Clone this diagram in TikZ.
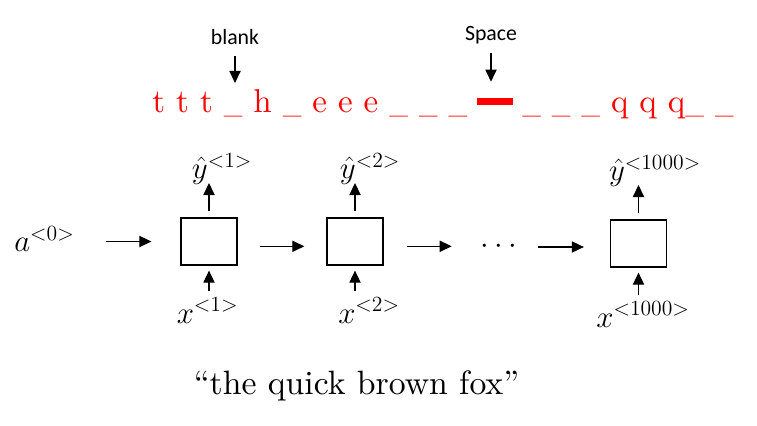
\documentclass[tikz,border=0pt]{standalone}
\usepackage{fix-cm}
\usepackage{fontspec}
\newfontfamily\notefont{Carlito}
\newfontfamily\cmbig{lmroman10-regular.otf}[Ligatures=TeX]
\newcommand\blk{\scalebox{0.75}[1]{\_}}
\usetikzlibrary{positioning,arrows.meta}

\begin{document}
\begin{tikzpicture}[
    x=0.025cm, y=-0.025cm,
    cell/.style={draw, line width=0.9pt, minimum width=1.4cm, minimum height=1.175cm, inner sep=0pt},
    arr/.style={-{Triangle[length=0.3cm,width=0.28cm]}, line width=0.8pt},
    seq/.style={text=red, font=\cmbig\fontsize{23.5}{28}\selectfont, inner sep=0pt},
    captext/.style={font=\cmbig\fontsize{24}{28}\selectfont, inner sep=0pt},
    lab/.style={font=\fontsize{22}{26}\selectfont, inner sep=0pt},
    note/.style={font=\notefont\fontsize{15.5}{18}\selectfont, inner sep=0pt},
  ]
  \useasboundingbox (0,0) rectangle (757,426);

  % Output sequence with blank and space marks.
  \node[seq, anchor=base west] (left) at (152,113) {t t t \blk{} h \blk{} e e e \blk{} \blk{} \blk};
  \node[fill=red, minimum width=0.9cm, minimum height=0.175cm, inner sep=0pt] (bar) at (495,101.5) {};
  \node[seq, anchor=base west] (right) at (522,113) {\blk{} \blk{} \blk{} q q q\blk{} \blk};
  \node[note] (blank) at (235,37) {blank};
  \node[note] (space) at (491,35) {Space};
  \coordinate (gap) at (235,83);
  \draw[arr, shorten <=0.275cm] (blank.south) -- (gap);
  \draw[arr, shorten <=0.225cm, shorten >=0.4cm] (space.south) -- (space.south |- bar.north);

  % Unrolled network.
  \node[lab, anchor=base west] (a0) at (14,252) {$a^{<0>}$};
  \node[cell] (b1) at (209,241.5) {};
  \node[cell] (b2) at (355,241.5) {};
  \node[cell] (b3) at (638.5,243.5) {};
  \node[lab] (dots) at (499,247) {$\cdots$};

  \node[lab, anchor=base] (y1) at (222,179) {$\hat{y}^{<1>}$};
  \node[lab, anchor=base] (y2) at (370,179) {$\hat{y}^{<2>}$};
  \node[lab, anchor=base] (y3) at (655,181) {$\hat{y}^{<1000>}$};
  \node[lab, anchor=base] (x1) at (207.5,323) {$x^{<1>}$};
  \node[lab, anchor=base] (x2) at (369,323) {$x^{<2>}$};
  \node[lab, anchor=base] (x3) at (643,327) {$x^{<1000>}$};

  \foreach \i in {1,2,3} {
    \draw[arr, shorten <=0.15cm, shorten >=0.1cm] (b\i.north) -- (b\i.north |- y\i.base);
    \draw[arr, shorten <=0.175cm, shorten >=0.125cm] (b\i.south |- x\i.north) -- (b\i.south);
  }
  \draw[arr, shorten <=0.775cm, shorten >=0.725cm] (a0.east |- b1.west) -- (b1.west);
  \foreach \s/\t/\a/\b/\d in {b1/b2/0.55/0.55/-0.12, b2/dots/0.575/0.725/-0.12, dots/b3/0.525/0.65/0}
    \draw[arr, shorten <=\a cm, shorten >=\b cm] ([yshift=\d cm]\s.east) -- ([yshift=\d cm]\s.east -| \t.west);

  \node[captext, anchor=base] (caption) at (356.5,394) {``the quick brown fox''};
\end{tikzpicture}
\end{document}
